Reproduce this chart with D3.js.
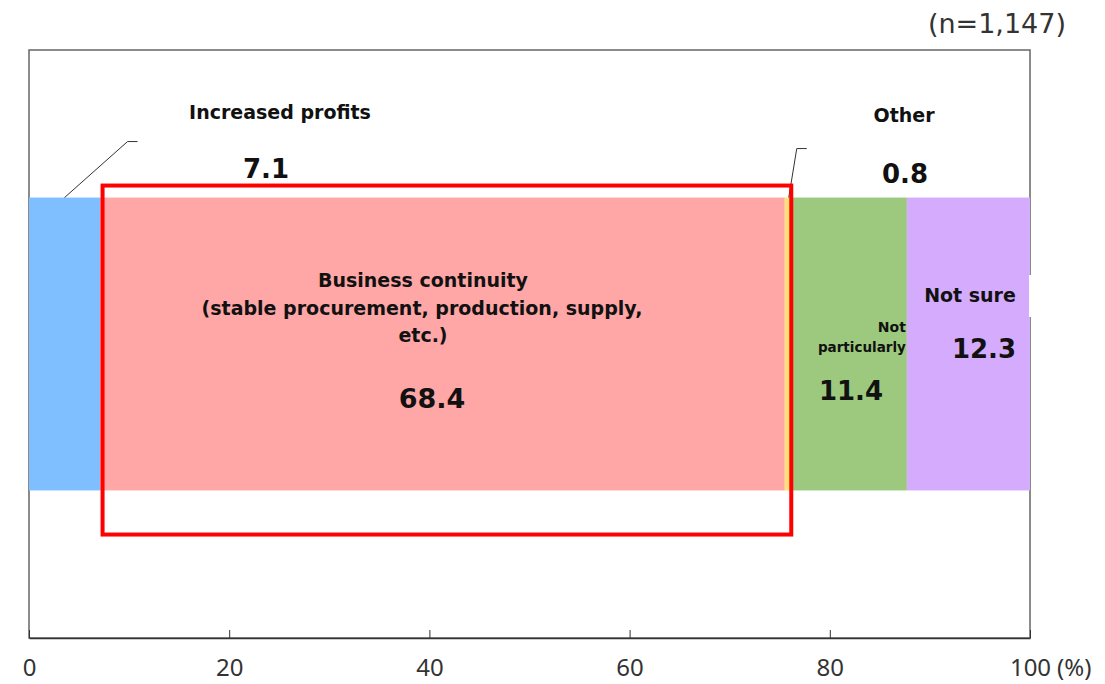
<!DOCTYPE html>
<html>
<head>
<meta charset="utf-8">
<script src="https://cdn.jsdelivr.net/npm/d3@7"></script>
<style>
  body { margin: 0; background: #fff; }
  svg { display: block; }
  .lbl { font-family: "DejaVu Sans", Verdana, sans-serif; font-weight: bold; fill: #111; }
  .num { font-family: "DejaVu Sans", Verdana, sans-serif; font-weight: bold; fill: #111; }
  .x-axis text { font-family: "Noto Sans", sans-serif; font-size: 24px; fill: #333; }
</style>
</head>
<body>
<svg id="chart"></svg>
<script>
// answers, left to right (%)
const categories = ['Increased profits', 'Business continuity', 'Other', 'Not particularly', 'Not sure']
const values = [7.1, 68.4, 0.8, 11.4, 12.3]
const colors = ['#80bfff', '#ffa6a6', '#ffe07a', '#9cc97e', '#d5abfe']
const xTicks = [0, 20, 40, 60, 80, 100]
const sampleNote = '(n=1,147)'

const width = 1105, height = 684
const MARGIN = { top: 50, right: 75, bottom: 46, left: 29 }
const boundedWidth = width - MARGIN.left - MARGIN.right
const boundedHeight = height - MARGIN.top - MARGIN.bottom

const $svg = d3.select('#chart').attr('width', width).attr('height', height)

const xScale = d3.scaleLinear().domain([0, 100]).range([MARGIN.left, MARGIN.left + boundedWidth])
const yScale = d3.scaleBand().domain(['all']).range([MARGIN.top, MARGIN.top + boundedHeight])
  .paddingInner(0.335).paddingOuter(0.335)

// stacked segments
let acc = 0
const segs = categories.map((c, i) => {
  const s = { name: c, value: values[i], x0: acc, x1: acc + values[i], color: colors[i] }
  acc += values[i]
  return s
})

// plot frame
$svg.append('rect')
  .attr('x', xScale(0)).attr('y', MARGIN.top)
  .attr('width', xScale(100) - xScale(0)).attr('height', boundedHeight)
  .attr('fill', 'none').attr('stroke', '#666').attr('stroke-width', 1.5)

$svg.selectAll('.seg')
  .data(segs)
  .enter()
  .append('rect')
    .attr('class', 'seg')
    .attr('x', d => xScale(d.x0))
    .attr('y', yScale('all'))
    .attr('width', d => xScale(d.x1) - xScale(d.x0))
    .attr('height', yScale.bandwidth())
    .attr('fill', d => d.color)

// x axis, ticks pointing up into the plot
const $xAxis = $svg.append('g')
  .attr('class', 'x-axis')
  .attr('transform', `translate(0, ${MARGIN.top + boundedHeight})`)
  .call(d3.axisBottom(xScale).tickValues(xTicks).tickSizeInner(-8).tickSizeOuter(0).tickPadding(21))
$xAxis.select('.domain').attr('stroke', '#333').attr('stroke-width', 1.5)
$xAxis.selectAll('.tick line').attr('stroke', '#333')
$xAxis.append('text')
  .attr('x', xScale(100) + 27).attr('y', 38)
  .attr('text-anchor', 'start')
  .text('(%)')

$svg.append('text')
  .attr('x', 1066).attr('y', 33)
  .attr('text-anchor', 'end')
  .style('font-family', '"DejaVu Sans", Verdana, sans-serif')
  .style('font-size', '27px')
  .attr('fill', '#333')
  .text(sampleNote)

const barTop = yScale('all')
const mid = d => xScale((d.x0 + d.x1) / 2)

// leader lines for the thin segments
const line = d3.line()
const leaders = [
  [[mid(segs[0]), barTop], [mid(segs[0]) + 63, barTop - 56], [mid(segs[0]) + 73, barTop - 56]],
  [[mid(segs[2]), barTop], [mid(segs[2]) + 8, barTop - 49], [mid(segs[2]) + 18, barTop - 49]]
]
$svg.selectAll('.leader')
  .data(leaders)
  .enter()
  .append('path')
    .attr('class', 'leader')
    .attr('d', line)
    .attr('fill', 'none')
    .attr('stroke', '#333')
    .attr('stroke-width', 1)

// label box that cuts the frame
$svg.append('rect').attr('x', xScale(100) - 1).attr('y', 275).attr('width', 6).attr('height', 42).attr('fill', '#fff')

// highlight box round business continuity
$svg.append('rect')
  .attr('x', xScale(segs[1].x0) + 2.5)
  .attr('y', barTop - 12)
  .attr('width', xScale(segs[2].x1) - xScale(segs[1].x0) - 4)
  .attr('height', 349)
  .attr('fill', 'none')
  .attr('stroke', '#ff0000')
  .attr('stroke-width', 4)

function addText(x, y, txt, size, anchor, cls) {
  $svg.append('text')
    .attr('class', cls || 'lbl')
    .attr('x', x).attr('y', y)
    .attr('text-anchor', anchor || 'middle')
    .style('font-size', size + 'px')
    .text(txt)
}

const fmt = d3.format('.1f')

// Increased profits
addText(280, 119, categories[0], 19)
addText(266, 178, fmt(values[0]), 26, 'middle', 'num')

// Business continuity
addText(423, 287, categories[1], 19)
addText(422, 315, '(stable procurement, production, supply,', 19)
addText(423, 342, 'etc.)', 19)
addText(432, 408, fmt(values[1]), 27, 'middle', 'num')

// Other
addText(904, 122, categories[2], 19)
addText(905, 183, fmt(values[2]), 26, 'middle', 'num')

// Not particularly
addText(xScale(segs[3].x1) - 1, 332, 'Not', 14, 'end')
addText(xScale(segs[3].x1) - 1, 352, 'particularly', 13.5, 'end')
addText(851, 400, fmt(values[3]), 26, 'middle', 'num')

// Not sure
addText(970, 302, categories[4], 19)
addText(984, 358, fmt(values[4]), 26, 'middle', 'num')
</script>
</body>
</html>
